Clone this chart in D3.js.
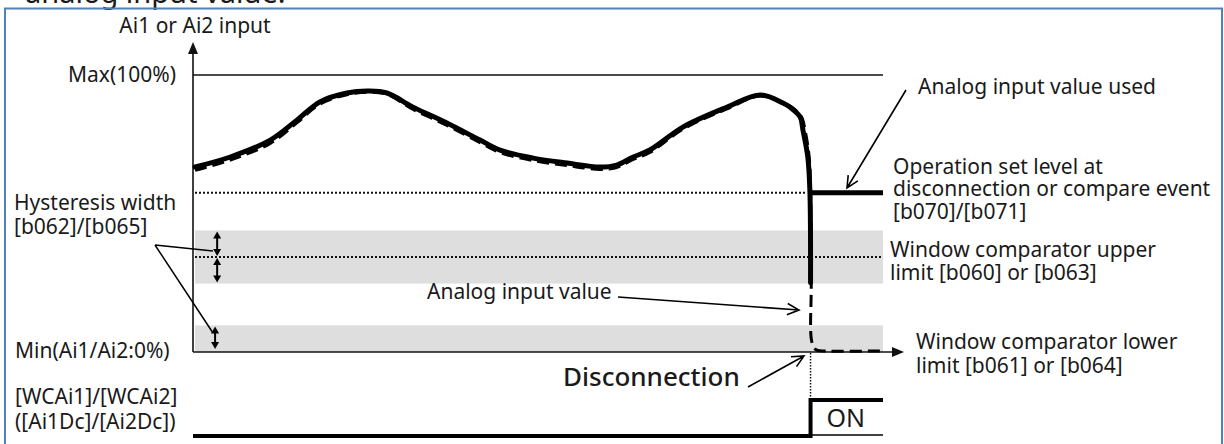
<!DOCTYPE html>
<html>
<head>
<meta charset="utf-8">
<script src="https://cdn.jsdelivr.net/npm/d3@7"></script>
<style>
  html, body { margin: 0; padding: 0; background: #fff; }
  svg { display: block; }
  text { font-family: 'Noto Sans', 'DejaVu Sans', sans-serif; fill: #1a1a1a; }
</style>
</head>
<body>
<div id="chart"></div>
<script>
(function () {
  'use strict';

  // time axis 0..100, level axis 0..100 (%)
  var timeX = [0.3, 5.4, 11.2, 15.1, 18.4, 22.3, 25.4, 28.1, 31.9, 36.8, 41.6, 44.5, 49.3, 54.2,
               59.0, 61.4, 63.8, 66.2, 71.0, 77.4, 82.2, 85.5, 86.5, 88.0, 88.4, 89.1, 89.4, 89.5];
  // analog input value used (solid)
  var usedY = [66.8, 70.4, 76.5, 83.8, 90.3, 93.5, 94.2, 93.5, 88.4, 82.7, 76.5, 72.9, 70.0, 68.2,
               66.8, 67.5, 70.4, 72.9, 81.2, 88.4, 92.8, 89.9, 88.4, 84.8, 80.1, 70.4, 58.5, 25.0];
  // analog input value (dashed)
  var inputX = [0.3, 5.4, 11.2, 15.1, 18.4, 22.3, 25.4, 28.1, 31.9, 36.8, 41.6, 44.5, 49.3, 54.2,
                59.0, 61.4, 63.8, 66.2, 71.0, 77.4, 82.2, 85.7, 86.8, 88.2, 88.7, 89.3, 89.5, 89.6,
                89.7, 90.3, 91.2, 100];
  var inputY = [65.6, 69.3, 75.3, 82.8, 89.5, 92.9, 93.8, 93.0, 87.6, 81.8, 75.6, 72.0, 69.1, 67.3,
                65.9, 66.6, 69.5, 72.0, 80.4, 87.8, 92.4, 89.8, 88.4, 84.8, 80.1, 70.4, 58.5, 25.0,
                3.5, 0.8, 0.4, 0.4];

  var disconnectX = 89.5;
  var setLevel    = 57.5;   // operation set level [b070]/[b071]
  var upperLimit  = 34.3;   // [b060]/[b063]
  var lowerLimit  = 0;      // [b061]/[b064]
  var hysteresis  = 9.6;    // [b062]/[b065]

  var sigX = [0, 89.5, 89.5, 100];
  var sigY = [0, 0, 1, 1];

  var W = 1224, H = 444;
  var svg = d3.select('#chart').append('svg').attr('width', W).attr('height', H);

  var x  = d3.scaleLinear().domain([0, 100]).range([193, 883]);
  var y  = d3.scaleLinear().domain([0, 100]).range([352, 75]);
  var yS = d3.scaleLinear().domain([0, 1]).range([436, 400]);

  // heading of the page (cut off at the top, as in the source) and frame
  svg.append('text').attr('x', 25).attr('y', 2.5).attr('font-size', 29).text('analog input value.');
  svg.append('rect').attr('x', 5).attr('y', 8.5).attr('width', 1217).attr('height', 500)
    .attr('fill', 'none').attr('stroke', '#4f81bd').attr('stroke-width', 2);

  // gray hysteresis bands
  [[upperLimit - hysteresis, upperLimit + hysteresis], [lowerLimit, lowerLimit + hysteresis]]
    .forEach(function (b) {
      svg.append('rect')
        .attr('x', x(0) + 2).attr('width', x(100) - x(0) - 2)
        .attr('y', y(b[1])).attr('height', y(b[0]) - y(b[1]))
        .attr('fill', '#dedede');
    });

  // dotted levels
  svg.append('line').attr('x1', x(0) + 2).attr('x2', x(disconnectX) - 4)
    .attr('y1', y(setLevel)).attr('y2', y(setLevel))
    .attr('stroke', '#111').attr('stroke-width', 2).attr('stroke-dasharray', '2,2');
  svg.append('line').attr('x1', x(0) + 2).attr('x2', x(100))
    .attr('y1', y(upperLimit)).attr('y2', y(upperLimit))
    .attr('stroke', '#111').attr('stroke-width', 2).attr('stroke-dasharray', '2,2');

  // max line
  svg.append('line').attr('x1', x(0)).attr('x2', x(100))
    .attr('y1', y(100)).attr('y2', y(100))
    .attr('stroke', '#111').attr('stroke-width', 1.6);

  // axes with arrows
  svg.append('line').attr('x1', x(0)).attr('x2', x(0)).attr('y1', y(0)).attr('y2', 50)
    .attr('stroke', '#111').attr('stroke-width', 1.6);
  svg.append('path').attr('d', 'M' + x(0) + ',42 L' + (x(0) - 5) + ',54 L' + (x(0) + 5) + ',54 Z')
    .attr('fill', '#111');
  svg.append('line').attr('x1', x(0)).attr('x2', x(100) + 12).attr('y1', y(0)).attr('y2', y(0))
    .attr('stroke', '#111').attr('stroke-width', 1.6);
  svg.append('path').attr('d', 'M' + (x(100) + 21) + ',' + y(0) + ' L' + (x(100) + 9) + ',' + (y(0) - 5) +
      ' L' + (x(100) + 9) + ',' + (y(0) + 5) + ' Z').attr('fill', '#111');

  // dotted drop line at disconnection
  svg.append('line').attr('x1', x(disconnectX)).attr('x2', x(disconnectX))
    .attr('y1', y(0) + 1).attr('y2', yS(1))
    .attr('stroke', '#111').attr('stroke-width', 1.5).attr('stroke-dasharray', '1.5,1.5');

  var line = d3.line().curve(d3.curveCatmullRom.alpha(0.5));

  // analog input value (dashed)
  svg.append('path')
    .attr('d', line(inputX.map(function (v, i) { return [x(v), y(inputY[i])]; })))
    .attr('fill', 'none').attr('stroke', '#000').attr('stroke-width', 3)
    .attr('stroke-dasharray', '12,6');

  // analog input value used (solid)
  svg.append('path')
    .attr('d', line(timeX.map(function (v, i) { return [x(v), y(usedY[i])]; })))
    .attr('fill', 'none').attr('stroke', '#000').attr('stroke-width', 5)
    .attr('stroke-linecap', 'round').attr('stroke-linejoin', 'round');
  svg.append('line').attr('x1', x(disconnectX)).attr('x2', x(100))
    .attr('y1', y(setLevel)).attr('y2', y(setLevel))
    .attr('stroke', '#000').attr('stroke-width', 5);

  // signal
  svg.append('line').attr('x1', x(disconnectX)).attr('x2', x(100))
    .attr('y1', yS(0) - 1).attr('y2', yS(0) - 1).attr('stroke', '#000').attr('stroke-width', 1.5);
  svg.append('path')
    .attr('d', d3.line()(sigX.map(function (v, i) { return [x(v), yS(sigY[i])]; })))
    .attr('fill', 'none').attr('stroke', '#000').attr('stroke-width', 4);
  svg.append('text').attr('x', x(disconnectX) + 16).attr('y', 427).attr('font-size', 25).text('ON');

  // hysteresis double arrows
  function dblArrow(xp, ya, yb) {
    svg.append('line').attr('x1', xp).attr('x2', xp).attr('y1', ya + 4).attr('y2', yb - 4)
      .attr('stroke', '#000').attr('stroke-width', 2);
    svg.append('path').attr('d', 'M' + xp + ',' + ya + ' L' + (xp - 4) + ',' + (ya + 7) + ' L' + (xp + 4) + ',' + (ya + 7) + ' Z')
      .attr('fill', '#000');
    svg.append('path').attr('d', 'M' + xp + ',' + yb + ' L' + (xp - 4) + ',' + (yb - 7) + ' L' + (xp + 4) + ',' + (yb - 7) + ' Z')
      .attr('fill', '#000');
  }
  dblArrow(x(3.5), y(upperLimit + hysteresis) + 1, y(upperLimit) - 1);
  dblArrow(x(3.5), y(upperLimit) + 1, y(upperLimit - hysteresis) - 1);
  dblArrow(x(3.2), y(lowerLimit + hysteresis) + 1, y(lowerLimit) - 3);

  svg.append('path').attr('d', 'M155,245 L213,251 M155,245 L213,333')
    .attr('fill', 'none').attr('stroke', '#000').attr('stroke-width', 1.5);

  // open-head leader arrows
  function leader(x1, y1, x2, y2) {
    var a = Math.atan2(y2 - y1, x2 - x1), L = 13, s = 0.45;
    svg.append('path')
      .attr('d', 'M' + x1 + ',' + y1 + ' L' + x2 + ',' + y2 +
        ' M' + (x2 - L * Math.cos(a - s)) + ',' + (y2 - L * Math.sin(a - s)) + ' L' + x2 + ',' + y2 +
        ' L' + (x2 - L * Math.cos(a + s)) + ',' + (y2 - L * Math.sin(a + s)))
      .attr('fill', 'none').attr('stroke', '#000').attr('stroke-width', 1.6);
  }
  leader(906, 90, 847, 188);
  leader(618, 297, 799, 310);
  leader(748, 387, 804, 356);

  // labels
  var labels = [
    { t: 'Ai1 or Ai2 input', x: 195, y: 33, a: 'middle' },
    { t: 'Max(100%)', x: 176, y: y(100) + 7, a: 'end' },
    { t: 'Hysteresis width', x: 14, y: 210 },
    { t: '[b062]/[b065]', x: 14, y: 234 },
    { t: 'Min(Ai1/Ai2:0%)', x: 15, y: y(0) + 6 },
    { t: '[WCAi1]/[WCAi2]', x: 15, y: 404 },
    { t: '([Ai1Dc]/[Ai2Dc])', x: 15, y: 429 },
    { t: 'Analog input value used', x: 918, y: 94 },
    { t: 'Operation set level at', x: 893, y: 174 },
    { t: 'disconnection or compare event', x: 893, y: 196 },
    { t: '[b070]/[b071]', x: 893, y: 219 },
    { t: 'Window comparator upper', x: 890, y: 257 },
    { t: 'limit [b060] or [b063]', x: 890, y: 280 },
    { t: 'Analog input value', x: 427, y: 299 },
    { t: 'Window comparator lower', x: 916, y: 349 },
    { t: 'limit [b061] or [b064]', x: 916, y: 373 }
  ];
  labels.forEach(function (l) {
    svg.append('text').attr('x', l.x).attr('y', l.y)
      .attr('text-anchor', l.a || 'start').attr('font-size', 21).text(l.t);
  });
  svg.append('text').attr('x', 563).attr('y', 386).attr('font-size', 26)
    .attr('font-weight', 500).text('Disconnection');
}());
</script>
</body>
</html>
